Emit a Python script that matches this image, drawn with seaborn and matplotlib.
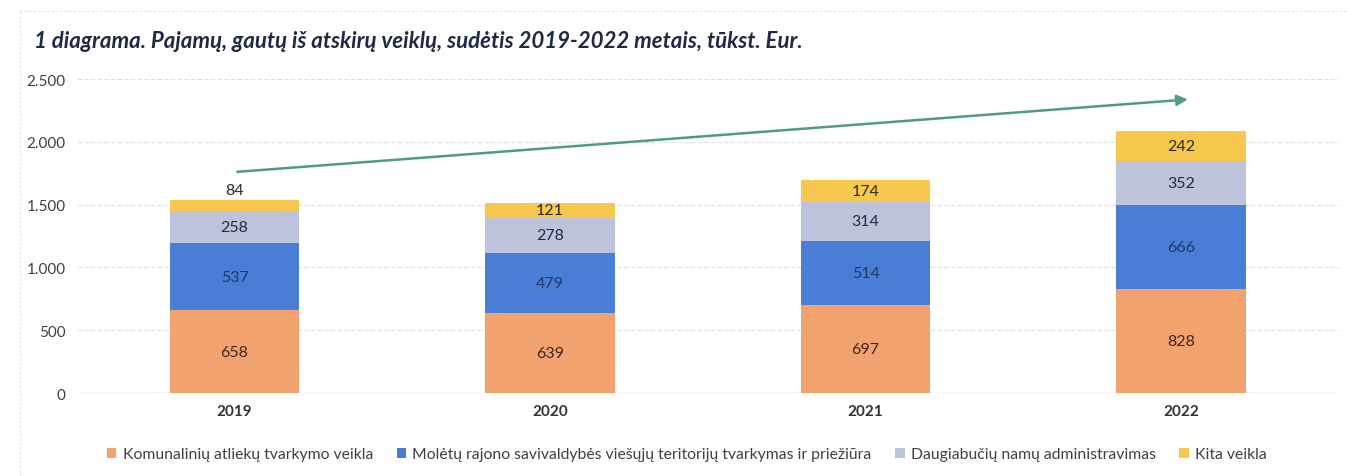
import numpy as np
import pandas as pd
import matplotlib.pyplot as plt
import seaborn as sns
from matplotlib.patches import Patch

# Data (thousand EUR)
years = ["2019", "2020", "2021", "2022"]
komunaliniu = [658, 639, 697, 828]
teritoriju = [537, 479, 514, 666]
daugiabuciu = [258, 278, 314, 352]
kita = [84, 121, 174, 242]

series_names = [
    "Komunalinių atliekų tvarkymo veikla",
    "Molėtų rajono savivaldybės viešųjų teritorijų tvarkymas ir priežiūra",
    "Daugiabučių namų administravimas",
    "Kita veikla",
]
series_colors = ["#F2A26E", "#4A7DD6", "#BDC3DB", "#F6C84E"]
label_colors = ["#3A2A20", "#1E3A6A", "#2A2A35", "#2A2A20"]

# trend arrow (start / end in data units)
arrow_start = (0.0, 1760)
arrow_end = (3.03, 2340)

sns.set_theme(style="white")
plt.rcParams["font.family"] = ["Lato", "DejaVu Sans"]

layers = np.array([komunaliniu, teritoriju, daugiabuciu, kita], dtype=float)
cum = layers.cumsum(axis=0)

fig = plt.figure(figsize=(13.47, 4.77), dpi=100)
ax = fig.add_axes([0.057, 0.174, 0.937, 0.658])

# stacked bars: draw cumulative totals from top layer down
for i in range(len(layers) - 1, -1, -1):
    df = pd.DataFrame({"year": years, "value": cum[i]})
    sns.barplot(data=df, x="year", y="value", color=series_colors[i],
                saturation=1, width=0.41, linewidth=0, ax=ax, zorder=2)

# value labels
for i in range(len(layers)):
    bottoms = cum[i] - layers[i]
    for j, v in enumerate(layers[i]):
        if v < 100:
            ypos = cum[i][j] + 25
            va = "bottom"
        else:
            ypos = bottoms[j] + v / 2
            va = "center"
        ax.text(j, ypos, f"{int(v)}", ha="center", va=va, fontsize=11.5,
                color=label_colors[i], zorder=4)

ax.annotate("", xy=arrow_end, xytext=arrow_start,
            arrowprops=dict(arrowstyle="-|>", color="#4F9C80", lw=1.8,
                            mutation_scale=16), zorder=5)

ax.set_ylim(0, 2500)
ax.set_xlim(-0.5, 3.5)
ax.set_yticks(np.arange(0, 2501, 500))
ax.set_yticklabels([f"{v:,}".replace(",", ".") for v in range(0, 2501, 500)],
                   fontsize=11, color="#404040")
ax.set_xticks(range(len(years)))
ax.set_xticklabels(years, fontsize=11, fontweight="bold", color="#333333")
ax.tick_params(axis="both", length=0, pad=8)
ax.set_xlabel("")
ax.set_ylabel("")
ax.grid(axis="y", color="#E0E0E0", lw=0.8, ls=(0, (4, 2)), zorder=0)
ax.set_axisbelow(True)
for s in ax.spines.values():
    s.set_visible(False)
ax.axhline(0, color="#D0D0D0", lw=0.9, zorder=1)

handles = [Patch(facecolor=c, edgecolor="none") for c in series_colors]
fig.legend(handles, series_names, loc="center", bbox_to_anchor=(0.51, 0.046),
           ncol=4, frameon=False, fontsize=11.3, handlelength=0.6,
           handleheight=0.6, handletextpad=0.4, columnspacing=1.5,
           labelcolor="#404040")

fig.text(0.025, 0.912, "1 diagrama. Pajamų, gautų iš atskirų veiklų, sudėtis 2019-2022 metais, tūkst. Eur.",
         fontsize=16, fontweight="bold", fontstyle="italic", color="#1F2A44",
         va="center")

# faint frame of the scanned page
fig.add_artist(plt.Line2D([0.015, 0.015], [0.0, 0.975], color="#E2E2E2",
                          lw=0.8, ls=(0, (2, 2)), transform=fig.transFigure))
fig.add_artist(plt.Line2D([0.015, 1.0], [0.975, 0.975], color="#E2E2E2",
                          lw=0.8, ls=(0, (2, 2)), transform=fig.transFigure))

fig.savefig("out.png", dpi=100, facecolor="white")
